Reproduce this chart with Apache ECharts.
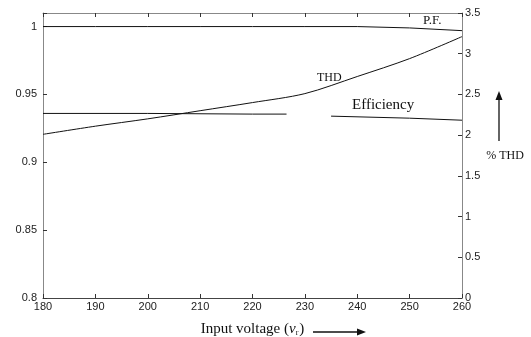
<!DOCTYPE html>
<html>
<head>
<meta charset="utf-8">
<script src="https://cdn.jsdelivr.net/npm/echarts@6/dist/echarts.min.js"></script>
<style>
html,body{margin:0;padding:0;background:#fff;}
#chart{width:531px;height:337px;}
</style>
</head>
<body>
<div id="chart"></div>
<script>
// ---- data ----
const voltage = [180, 190, 200, 210, 220, 230, 240, 250, 260];
const pf = [1, 1, 1, 1, 1, 1, 1, 0.999, 0.997];
const thd = [2.01, 2.11, 2.20, 2.30, 2.40, 2.51, 2.72, 2.94, 3.21];
const effVoltage = [180, 200, 220, 226.5, 230, 235, 250, 260];
const efficiency = [0.936, 0.936, 0.9355, 0.9355, null, 0.934, 0.9325, 0.931];
const leftTicks = { min: 0.8, max: 1.01, step: 0.05 };
const rightTicks = { min: 0, max: 3.5, step: 0.5 };
const xTicks = { min: 180, max: 260, step: 10 };

const chart = echarts.init(document.getElementById('chart'));
const sans = 'Liberation Sans';
const serif = 'Liberation Serif';
const pair = (xs, ys) => xs.map((x, i) => [x, ys[i] === null ? '-' : ys[i]]);

const labelStyle = { fontFamily: sans, fontSize: 11, color: '#222' };

chart.setOption({
  animation: false,
  backgroundColor: '#fff',
  grid: { left: 43, right: 69, top: 13, bottom: 39, containLabel: false, outerBoundsMode: 'none' },
  xAxis: [
    {
      type: 'value', position: 'bottom',
      min: xTicks.min, max: xTicks.max, interval: xTicks.step,
      axisLine: { show: true, lineStyle: { color: '#444', width: 1 } },
      axisTick: { show: true, inside: true, length: 4, lineStyle: { color: '#333' } },
      axisLabel: Object.assign({ margin: 3 }, labelStyle),
      splitLine: { show: false },
      name: '{n|Input voltage (}{i|v}{s|r}{n|)}',
      nameLocation: 'middle',
      nameGap: 22,
      nameTextStyle: {
        rich: {
          n: { fontFamily: serif, fontSize: 15, color: '#111', lineHeight: 18 },
          i: { fontFamily: serif, fontSize: 15, fontStyle: 'italic', color: '#111', lineHeight: 18 },
          s: { fontFamily: serif, fontSize: 8, color: '#111', lineHeight: 18, padding: [8, 1, 0, 0] }
        }
      }
    },
    {
      type: 'value', position: 'top',
      min: xTicks.min, max: xTicks.max, interval: xTicks.step,
      axisLine: { show: true, lineStyle: { color: '#888', width: 1 } },
      axisTick: { show: true, inside: true, length: 4, lineStyle: { color: '#333' } },
      axisLabel: { show: false },
      splitLine: { show: false }
    }
  ],
  yAxis: [
    {
      type: 'value', position: 'left',
      min: leftTicks.min, max: leftTicks.max, interval: leftTicks.step,
      axisLine: { show: true, lineStyle: { color: '#888', width: 1 } },
      axisTick: { show: true, inside: true, length: 4, lineStyle: { color: '#333' } },
      axisLabel: Object.assign({
        margin: 6,
        formatter: v => {
          const k = (v - leftTicks.min) / leftTicks.step;
          if (Math.abs(k - Math.round(k)) > 1e-6) return '';
          return String(parseFloat(v.toFixed(2)));
        }
      }, labelStyle),
      splitLine: { show: false }
    },
    {
      type: 'value', position: 'right',
      min: rightTicks.min, max: rightTicks.max, interval: rightTicks.step,
      axisLine: { show: true, lineStyle: { color: '#888', width: 1 } },
      axisTick: { show: true, inside: true, length: 4, lineStyle: { color: '#333' } },
      axisLabel: Object.assign({ margin: 3, formatter: v => String(parseFloat(v.toFixed(2))) }, labelStyle),
      splitLine: { show: false },
      name: '% THD',
      nameLocation: 'middle',
      nameRotate: 0,
      nameGap: 23,
      nameTextStyle: { fontFamily: serif, fontSize: 12, color: '#111', align: 'left', verticalAlign: 'middle' }
    }
  ],
  series: [
    {
      name: 'P.F.', type: 'line', xAxisIndex: 0, yAxisIndex: 0,
      data: pair(voltage, pf), symbol: 'none',
      lineStyle: { color: '#111', width: 1 }
    },
    {
      name: 'Efficiency', type: 'line', xAxisIndex: 0, yAxisIndex: 0,
      data: pair(effVoltage, efficiency), symbol: 'none', connectNulls: false,
      lineStyle: { color: '#111', width: 1 }
    },
    {
      name: 'THD', type: 'line', xAxisIndex: 0, yAxisIndex: 1,
      data: pair(voltage, thd), symbol: 'none', smooth: 0.3,
      lineStyle: { color: '#111', width: 1 }
    }
  ],
  graphic: [
    { type: 'text', left: 423, top: 14, style: { text: 'P.F.', font: '13px "Liberation Serif"', fill: '#111' } },
    { type: 'text', left: 317, top: 72, style: { text: 'THD', font: '12px "Liberation Serif"', fill: '#111' } },
    { type: 'text', left: 352, top: 98, style: { text: 'Efficiency', font: '15px "Liberation Serif"', fill: '#111' } },
    // up arrow for % THD
    { type: 'line', shape: { x1: 499, y1: 141, x2: 499, y2: 99 }, style: { stroke: '#111', lineWidth: 1.3 } },
    { type: 'polygon', shape: { points: [[499, 91], [495.5, 100], [502.5, 100]] }, style: { fill: '#111' } },
    // right arrow for input voltage
    { type: 'line', shape: { x1: 313, y1: 332, x2: 358, y2: 332 }, style: { stroke: '#111', lineWidth: 1.3 } },
    { type: 'polygon', shape: { points: [[366, 332], [357, 328.5], [357, 335.5]] }, style: { fill: '#111' } }
  ]
});
</script>
</body>
</html>
